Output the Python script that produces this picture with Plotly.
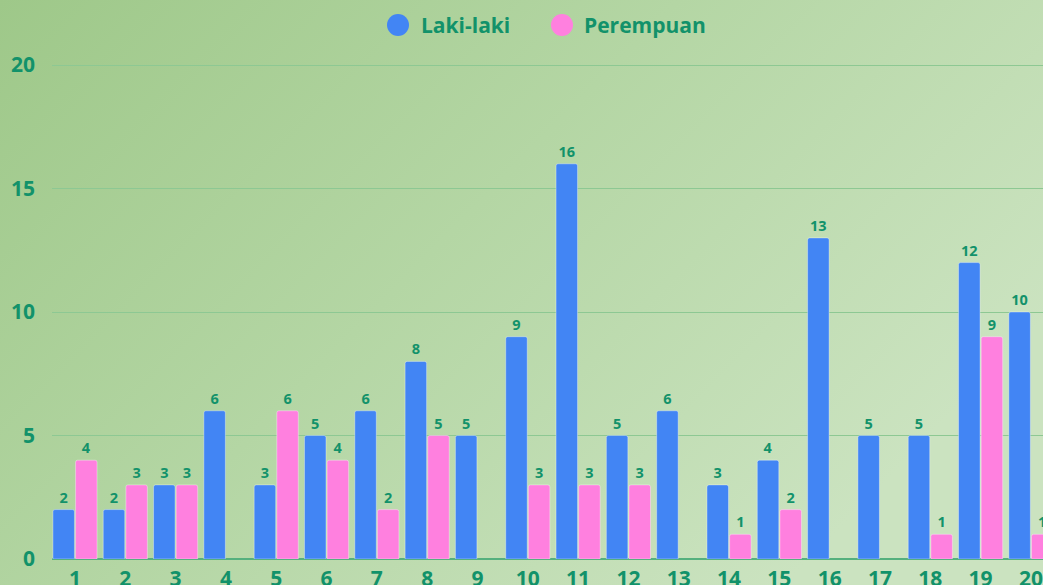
import base64
import plotly.graph_objects as go

categories = [str(i) for i in range(1, 21)]
laki = [2, 2, 3, 6, 3, 5, 6, 8, 5, 9, 16, 5, 6, 3, 4, 13, 5, 5, 12, 10]
perempuan = [4, 3, 3, None, 6, 4, 2, 5, None, 3, 3, 3, None, 1, 2, None, None, 1, 9, 1]
series_names = ["Laki-laki", "Perempuan"]
y_ticks = [0, 5, 10, 15, 20]

W, H = 1043, 585
ML, MR, MT, MB = 52, 0, 30, 26
PW, PH = W - ML - MR, H - MT - MB

TEXT = "#12926a"
BLUE = "#4285F4"
PINK = "#FF80DF"
FONT = "Open Sans"

svg = (
    '<svg xmlns="http://www.w3.org/2000/svg" width="1043" height="585" preserveAspectRatio="none">'
    '<defs><linearGradient id="g" x1="0" y1="0" x2="1" y2="0.55">'
    '<stop offset="0" stop-color="#9ec889"/>'
    '<stop offset="0.5" stop-color="#b4d6a4"/>'
    '<stop offset="1" stop-color="#cbe3c0"/>'
    '</linearGradient></defs>'
    '<rect width="1043" height="585" fill="url(#g)"/></svg>'
)
src = "data:image/svg+xml;base64," + base64.b64encode(svg.encode()).decode()

fig = go.Figure()
for name, vals, col in [(series_names[0], laki, BLUE), (series_names[1], perempuan, PINK)]:
    fig.add_trace(go.Bar(
        x=categories, y=vals, name=name, showlegend=False,
        marker=dict(color=col, cornerradius=2, line=dict(color="rgba(255,255,255,0.35)", width=1)),
        texttemplate="%{y}", textposition="outside", cliponaxis=False,
        textfont=dict(family=FONT, size=14.5, color=TEXT, weight="bold"),
    ))

def px_x(p):
    return (p - ML) / PW

def px_y(p):
    return (H - MB - p) / PH

shapes = []
annotations = []
for name, col, cx, tx in [(series_names[0], BLUE, 398, 419), (series_names[1], PINK, 562, 582)]:
    shapes.append(dict(type="circle", xref="paper", yref="paper",
                       x0=px_x(cx - 11), x1=px_x(cx + 11), y0=px_y(36), y1=px_y(14),
                       fillcolor=col, line=dict(width=0), layer="above"))
    annotations.append(dict(text=name, xref="paper", yref="paper", x=px_x(tx), y=px_y(25),
                            xanchor="left", yanchor="middle", showarrow=False,
                            font=dict(family=FONT, size=21, color=TEXT, weight="bold")))

fig.update_layout(
    width=W, height=H, autosize=False,
    margin=dict(l=ML, r=MR, t=MT, b=MB, pad=0, autoexpand=False),
    paper_bgcolor="#b4d6a4", plot_bgcolor="rgba(0,0,0,0)",
    barmode="group", bargap=0.1, bargroupgap=0.05,
    showlegend=False,
    shapes=shapes, annotations=annotations,
    images=[dict(source=src, xref="paper", yref="paper", x=-ML / PW, y=1 + MT / PH,
                 sizex=W / PW, sizey=H / PH, xanchor="left", yanchor="top",
                 sizing="stretch", layer="below")],
    font=dict(family=FONT, color=TEXT),
)
fig.update_xaxes(
    type="category", range=[-0.457, 19.24], showgrid=False, zeroline=False,
    tickfont=dict(family=FONT, size=21, color=TEXT, weight="bold"),
    ticks="", showline=False, ticklabelstandoff=5, automargin=False,
)
fig.update_yaxes(
    range=[0, (H - MB - MT) / 24.7], tickvals=y_ticks, showgrid=True,
    gridcolor="#8dc893", gridwidth=1, zeroline=True, zerolinecolor="#55b07e", zerolinewidth=2,
    tickfont=dict(family=FONT, size=21, color=TEXT, weight="bold"),
    ticks="", ticklabelstandoff=16, showline=False, automargin=False,
)

fig.write_html(
    "out.html",
    config={"displayModeBar": False},
    post_script="document.body.style.margin='0';document.body.style.overflow='hidden';",
)
